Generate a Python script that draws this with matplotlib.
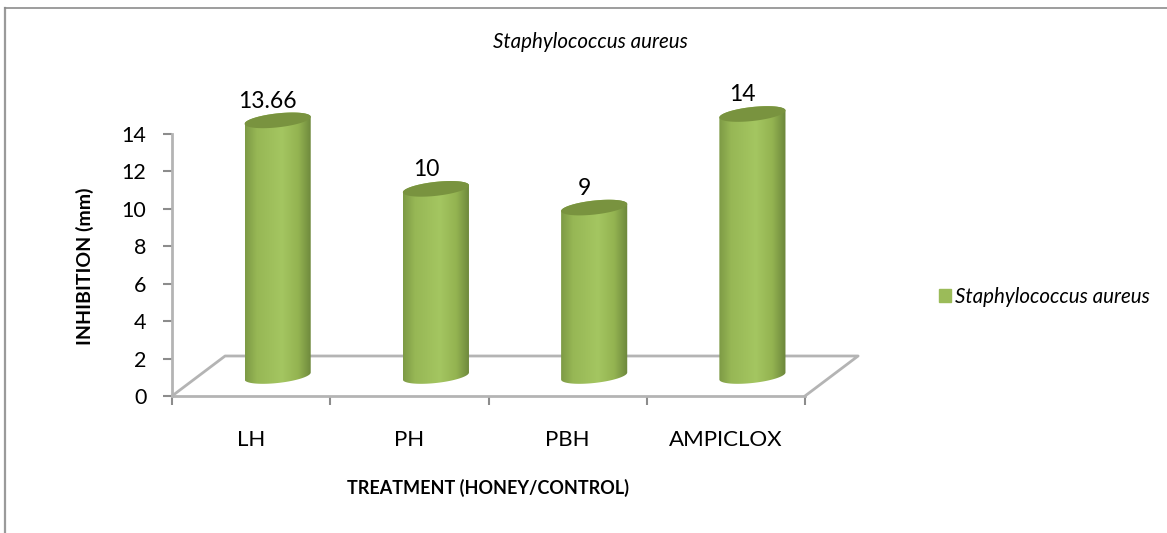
import numpy as np
import matplotlib
matplotlib.use('Agg')
import matplotlib.pyplot as plt
from matplotlib.lines import Line2D
from matplotlib.patches import Patch, Polygon

categorias = ['LH', 'PH', 'PBH', 'AMPICLOX']
valores = [13.66, 10, 9, 14]
rotulos = ['13.66', '10', '9', '14']
y_ticks = [0, 2, 4, 6, 8, 10, 12, 14]
serie = 'Staphylococcus aureus'

W, H = 1167, 533
plt.rcParams['font.family'] = ['Lato', 'DejaVu Sans']

CINZA = '#b4b4b4'
VERDE = '#9bbb59'

fig = plt.figure(figsize=(W / 100, H / 100), dpi=100)
ax = fig.add_axes([172 / W, (H - 396) / H, (805 - 172) / W, (396 - 134) / H])
ax.set_xlim(0, 4)
ax.set_ylim(0, 14)

# profundidade do "3D" em unidades dos dados
dx = 53 / 158
dy = 40 / 18.71
larg = 33 / 158   # meia largura do cilindro
b = 7 / 18.71     # achatamento da elipse
k = 3.5 / 18.71   # inclinacao da elipse

for s in ['top', 'right']:
    ax.spines[s].set_visible(False)
for s in ['left', 'bottom']:
    ax.spines[s].set_color(CINZA)
    ax.spines[s].set_linewidth(2)

# piso
ax.plot([0, dx, 4 + dx, 4], [0, dy, dy, 0], color=CINZA, lw=2, clip_on=False, zorder=1)

ax.set_xticks([0, 1, 2, 3, 4])
ax.set_xticklabels([])
ax.set_yticks(y_ticks)
ax.set_yticklabels([str(v) for v in y_ticks], fontsize=15.5)
ax.tick_params(axis='both', length=6.5, width=1.5, color='#8c8c8c', pad=12)

gradiente = matplotlib.colors.LinearSegmentedColormap.from_list(
    'cil', [(0, '#7d9a45'), (0.18, '#97b755'), (0.55, '#a4c661'), (0.8, '#93b351'), (1, '#6c863b')])
faixa = np.linspace(0, 1, 256).reshape(1, -1)

t = np.linspace(0, 2 * np.pi, 200)
t_baixo = np.linspace(np.pi, 2 * np.pi, 100)
t_cima = np.linspace(0, np.pi, 100)

for i, v in enumerate(valores):
    cx = i + 0.5 + dx / 2
    base = dy / 2
    topo = base + v
    # corpo do cilindro
    xb = cx + larg * np.cos(t_baixo)
    yb = base + b * np.sin(t_baixo) + k * np.cos(t_baixo)
    xc = cx + larg * np.cos(t_cima)
    yc = topo + b * np.sin(t_cima) + k * np.cos(t_cima)
    corpo = Polygon(np.column_stack([np.r_[xb, xc], np.r_[yb, yc]]), closed=True,
                    transform=ax.transData, fc='none', ec='none')
    ax.add_patch(corpo)
    corpo.set_clip_on(False)
    im = ax.imshow(faixa, cmap=gradiente, aspect='auto', zorder=3,
                   extent=[cx - larg, cx + larg, base - 1, topo + 1])
    im.set_clip_path(corpo)
    im.set_clip_box(fig.bbox)
    # tampa
    tampa = Polygon(np.column_stack([cx + larg * np.cos(t), topo + b * np.sin(t) + k * np.cos(t)]),
                    closed=True, fc='#79933f', ec='none', zorder=4, clip_on=False)
    ax.add_patch(tampa)
    ax.annotate(rotulos[i], (cx, topo), xytext=(-10, 19), textcoords='offset pixels',
                ha='center', va='center', fontsize=16.5, color='black', annotation_clip=False)

ax.set_xlim(0, 4)
ax.set_ylim(0, 14)

# rotulos das categorias
for i, c in enumerate(categorias):
    ax.annotate(c, (i + 0.5, 0), xytext=(0, -44), textcoords='offset pixels',
                ha='center', va='center', fontsize=16, annotation_clip=False)

fig.text(590 / W, 1 - 42 / H, serie, style='italic', fontsize=14.8, ha='center', va='center')
fig.text(488 / W, 1 - 488 / H, 'TREATMENT (HONEY/CONTROL)', fontweight='bold', fontsize=13,
         ha='center', va='center')
fig.text(85 / W, 1 - 266 / H, 'INHIBITION (mm)', fontweight='bold', fontsize=14, rotation=90,
         ha='center', va='center')

fig.legend(handles=[Patch(color=VERDE, label=serie)], loc='center left',
           bbox_to_anchor=(920 / W, 1 - 297 / H), frameon=False,
           prop={'style': 'italic', 'size': 14.8}, handlelength=0.6, handleheight=0.6, handletextpad=0.2)

# moldura: so topo e esquerda aparecem
fig.add_artist(Line2D([5 / W, 5 / W], [0, 1 - 8 / H], color='#9a9a9a', lw=1.6))
fig.add_artist(Line2D([5 / W, 1], [1 - 8 / H, 1 - 8 / H], color='#8c8c8c', lw=1.2))

fig.savefig('out.png', dpi=100)
